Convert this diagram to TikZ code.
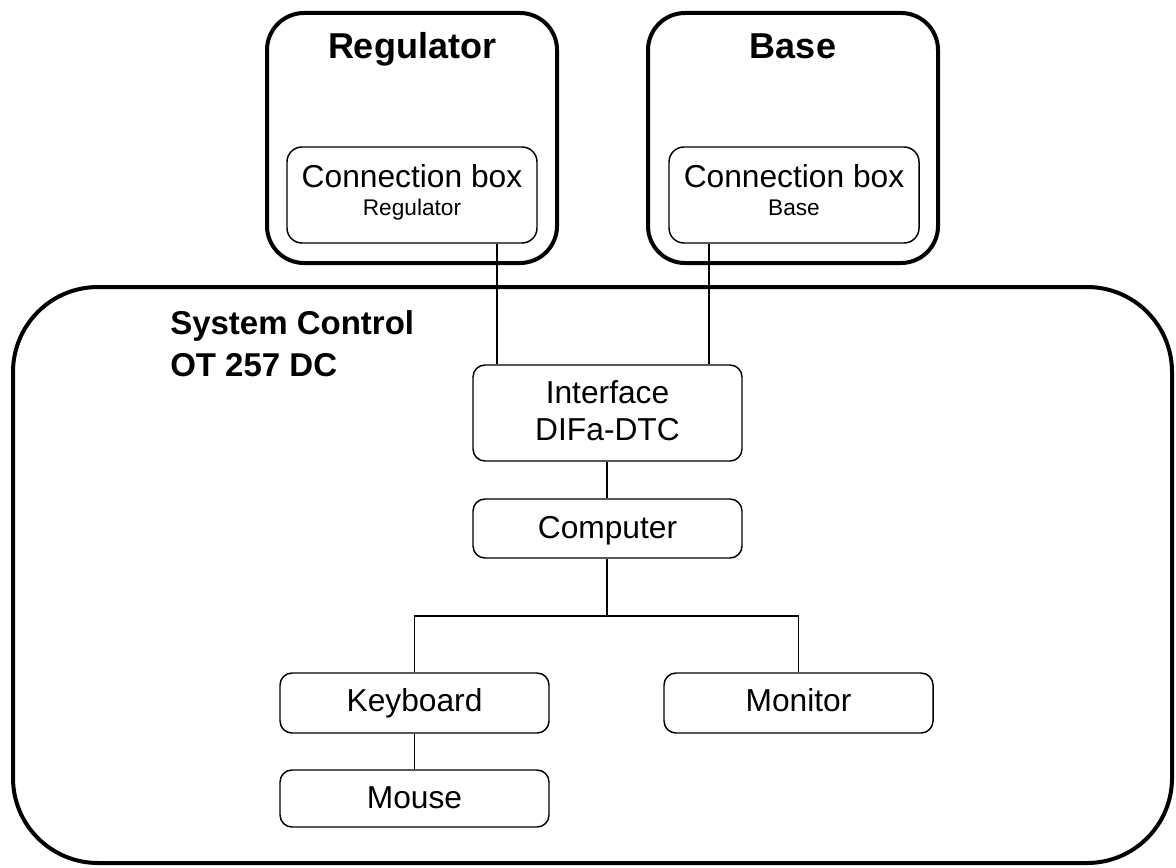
\documentclass[tikz,border=0pt]{standalone}
\usepackage{fontspec}
\setmainfont{Liberation Sans}
\begin{document}
\begin{tikzpicture}[x=0.75pt,y=-0.75pt,
  thickbox/.style={draw,line width=3pt,rounded corners=27.75pt,inner sep=0pt},
  bigbox/.style={draw,line width=3pt,rounded corners=63.75pt,inner sep=0pt},
  cbbox/.style={draw,line width=1.1pt,rounded corners=11.25pt,inner sep=0pt,minimum width=187.5pt,minimum height=72pt},
  unitbox/.style={draw,line width=1.1pt,rounded corners=9pt,inner sep=0pt,minimum width=201.75pt},
  conn/.style={line width=1pt},
  title/.style={font=\fontsize{27}{32}\selectfont\bfseries,inner sep=0pt,anchor=base},
  systitle/.style={font=\fontsize{24.75}{30}\selectfont\bfseries,inner sep=0pt,anchor=base west},
  cbtext/.style={font=\fontsize{23.8}{28}\selectfont,inner sep=0pt,anchor=base},
  subtext/.style={font=\fontsize{17}{20}\selectfont,inner sep=0pt,anchor=base},
  lbl/.style={font=\fontsize{23.8}{28}\selectfont,inner sep=0pt,anchor=base}]
\useasboundingbox (0,0) rectangle (1176,867);

% outer boxes
\node[thickbox,minimum width=217.5pt,minimum height=187.5pt] (reg) at (412,138) {};
\node[thickbox,minimum width=217.5pt,minimum height=187.5pt] (base) at (793,138) {};
\node[bigbox,minimum width=869.25pt,minimum height=432pt] (sys) at (592.5,575) {};

% connection boxes
\node[cbbox] (regcb) at (412,195) {};
\node[cbbox] (basecb) at (794,195) {};

% units
\node[unitbox,minimum height=72pt] (iface) at (607.5,413) {};
\node[unitbox,minimum height=44.25pt] (comp) at (607.5,528.5) {};
\node[unitbox,minimum height=45pt] (kbd) at (414.5,703) {};
\node[unitbox,minimum height=45pt] (mon) at (798.5,703) {};
\node[unitbox,minimum height=42.75pt] (mouse) at (414.5,798.5) {};

% texts
\node[title] (regtitle) at (412,59) {Regulator};
\node[title] (basetitle) at (793,59) {Base};
\node[cbtext] (regcbt) at (412,187) {Connection box};
\node[subtext] (regcbs) at (412,215) {Regulator};
\node[cbtext] (basecbt) at (794,187) {Connection box};
\node[subtext] (basecbs) at (794,215) {Base};
\node[systitle] (sys1) at (170,334) {System Control};
\node[systitle] (sys2) at (170,376) {OT 257 DC};
\node[lbl] (if1) at (607.5,403) {Interface};
\node[lbl] (if2) at (607.5,440) {DIFa-DTC};
\node[lbl] (compt) at (607.5,538) {Computer};
\node[lbl] (kbdt) at (414.5,711) {Keyboard};
\node[lbl] (mont) at (798.5,711) {Monitor};
\node[lbl] (mouset) at (414.5,808) {Mouse};

% connectors
\coordinate (rx) at (497,300);
\coordinate (bx) at (709,300);
\coordinate (br) at (607,616);
\draw[conn] (regcb.south -| rx) -- (iface.north -| rx);
\draw[conn] (basecb.south -| bx) -- (iface.north -| bx);
\draw[conn] (iface.south -| br) -- (comp.north -| br);
\draw[conn] (comp.south -| br) -- (br);
\draw[conn] (kbd.north) |- (br) -| (mon.north);
\draw[conn] (kbd.south) -- (mouse.north);
\end{tikzpicture}
\end{document}
